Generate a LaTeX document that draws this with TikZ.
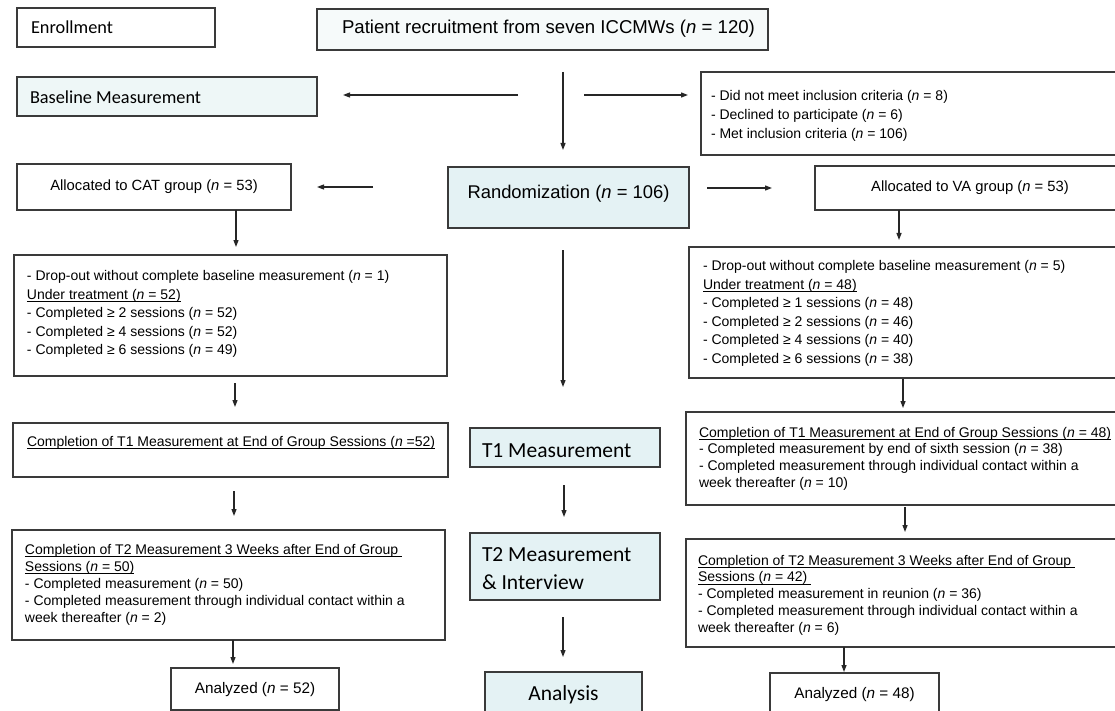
\documentclass[tikz,border=0pt]{standalone}
\usepackage{fontspec}
\setmainfont{Liberation Sans}
\newfontfamily\calib{Carlito}
\usetikzlibrary{arrows.meta}
\definecolor{bordc}{HTML}{3A3A3A}
\definecolor{bluef}{HTML}{E4F2F4}
\definecolor{basef}{HTML}{EEF7F7}
\definecolor{patf}{HTML}{F6FAFA}
\newsavebox\ulbox
\newcommand\ulx[1]{\sbox\ulbox{#1}\rlap{\rule[-2.4pt]{\wd\ulbox}{0.7pt}}\usebox\ulbox}
\newcommand\myln[1]{\mbox{\rule{0pt}{0.75em}#1}\par}
\newcommand\tbl[5]{\parbox[c][#2pt][t]{#1pt}{\leftskip=#4pt\relax\vspace*{#3pt}#5}}
\newcommand\tbc[4]{\parbox[c][#2pt][t]{#1pt}{\centering\vspace*{#3pt}#4}}
\newcommand\nn{\textit{n}}
\tikzset{
  box/.style={draw=bordc, line width=1.1pt, inner sep=0pt, outer sep=0pt, anchor=north west},
  arr/.style={-{Triangle[length=7pt,width=5pt]}, line width=1.2pt, draw=black!85},
}
\begin{document}
\begin{tikzpicture}[x=1pt,y=-1pt]
\useasboundingbox (0,0) rectangle (1115,711);
\clip (0,0) rectangle (1115,711);
\fill[white] (0,0) rectangle (1115,711);

% left column labels
\node[box] (enroll) at (17,8) {\calib\fontsize{18.3}{22}\selectfont\tbl{198}{39}{12.2}{14}{\myln{Enrollment}}};
\node[box, fill=basef] (baseline) at (17,77) {\calib\fontsize{18.3}{22}\selectfont\tbl{300}{39}{12.3}{13}{\myln{Baseline Measurement}}};

% top
\node[box, fill=patf] (patient) at (317,9) {\fontsize{18.6}{22}\selectfont\tbl{451}{41}{10.5}{25}{\myln{Patient recruitment from seven ICCMWs (\nn{} = 120)}}};
\node[box] (excl) at (701,72) {\fontsize{14}{19}\selectfont\tbl{424}{83}{18.5}{10}{%
  \myln{- Did not meet inclusion criteria (\nn{} = 8)}%
  \myln{- Declined to participate (\nn{} = 6)}%
  \myln{- Met inclusion criteria (\nn{} = 106)}}};

% allocation
\node[box] (cat) at (17,164) {\fontsize{14.8}{18}\selectfont\tbc{274}{46}{15.2}{\myln{Allocated to CAT group (\nn{} = 53)}}};
\node[box, fill=bluef] (rand) at (448,167) {\fontsize{18.4}{22}\selectfont\tbc{241}{61}{17.5}{\myln{Randomization (\nn{} = 106)}}};
\node[box] (va) at (815,166) {\fontsize{14.8}{18}\selectfont\tbc{310}{44}{14.2}{\myln{Allocated to VA group (\nn{} = 53)}}};

% treatment
\node[box] (catd) at (14,255) {\fontsize{14}{18.5}\selectfont\tbl{433}{121}{15}{13}{%
  \myln{- Drop-out without complete baseline measurement (\nn{} = 1)}%
  \myln{\ulx{Under treatment (\nn{} = 52)}}%
  \myln{- Completed ≥ 2 sessions (\nn{} = 52)}%
  \myln{- Completed ≥ 4 sessions (\nn{} = 52)}%
  \myln{- Completed ≥ 6 sessions (\nn{} = 49)}}};
\node[box] (vad) at (689,247) {\fontsize{14}{18.6}\selectfont\tbl{436}{131}{13}{14}{%
  \myln{- Drop-out without complete baseline measurement (\nn{} = 5)}%
  \myln{\ulx{Under treatment (\nn{} = 48)}}%
  \myln{- Completed ≥ 1 sessions (\nn{} = 48)}%
  \myln{- Completed ≥ 2 sessions (\nn{} = 46)}%
  \myln{- Completed ≥ 4 sessions (\nn{} = 40)}%
  \myln{- Completed ≥ 6 sessions (\nn{} = 38)}}};

% T1
\node[box] (catt1) at (13,423) {\fontsize{14}{17}\selectfont\tbl{435}{54}{12.5}{14}{%
  \myln{\ulx{Completion of T1 Measurement at End of Group Sessions (\nn{} =52)}}}};
\node[box, fill=bluef] (t1m) at (470,428) {\calib\fontsize{21.5}{28}\selectfont\tbl{190}{39}{12.9}{12}{\myln{T1 Measurement}}};
\node[box] (vat1) at (686,412) {\fontsize{14}{16.8}\selectfont\tbl{439}{93}{14.5}{13}{%
  \myln{\ulx{Completion of T1 Measurement at End of Group Sessions (\nn{} = 48)}}%
  \myln{- Completed measurement by end of sixth session (\nn{} = 38)}%
  \myln{- Completed measurement through individual contact within a}%
  \myln{week thereafter (\nn{} = 10)}}};

% T2
\node[box] (catt2) at (12,530) {\fontsize{14}{17}\selectfont\tbl{433}{110}{13.5}{13}{%
  \myln{\ulx{Completion of T2 Measurement 3 Weeks after End of Group\ }}%
  \myln{\ulx{Sessions (\nn{} = 50)}}%
  \myln{- Completed measurement (\nn{} = 50)}%
  \myln{- Completed measurement through individual contact within a}%
  \myln{week thereafter (\nn{} = 2)}}};
\node[box, fill=bluef] (t2m) at (470,533) {\calib\fontsize{21.5}{28}\selectfont\tbl{190}{67}{11.9}{12}{%
  \myln{T2 Measurement}\myln{\& Interview}}};
\node[box] (vat2) at (686,539) {\fontsize{14}{16.8}\selectfont\tbl{439}{108}{15.5}{12}{%
  \myln{\ulx{Completion of T2 Measurement 3 Weeks after End of Group\ }}%
  \myln{\ulx{Sessions (\nn{} = 42)\ }}%
  \myln{- Completed measurement in reunion (\nn{} = 36)}%
  \myln{- Completed measurement through individual contact within a}%
  \myln{week thereafter (\nn{} = 6)}}};

% analysis
\node[box] (catan) at (171,668) {\fontsize{15.3}{18}\selectfont\tbc{168}{42}{14.5}{\myln{Analyzed (\nn{} = 52)}}};
\node[box, fill=bluef] (analysis) at (485,672) {\calib\fontsize{21.5}{28}\selectfont\tbc{157}{40}{11.9}{\myln{Analysis}}};
\node[box] (vaan) at (770,673) {\fontsize{15.3}{18}\selectfont\tbc{169}{40}{14.5}{\myln{Analyzed (\nn{} = 48)}}};

% connectors
\coordinate (bsrc) at (518,95);
\coordinate (esrc) at (584,95);
\draw[arr, shorten <=22pt, shorten >=17pt] ([xshift=20.5]patient.south) -- ([xshift=-5.5]rand.north);
\draw[arr, shorten >=26pt] (bsrc) -- (bsrc -| baseline.east);
\draw[arr, shorten >=13pt] (esrc) -- (esrc -| excl.west);
\draw[arr, shorten <=75pt, shorten >=26pt] (rand.west |- cat.east) -- (cat.east);
\draw[arr, shorten <=18pt, shorten >=43pt] (rand.east |- va.west) -- (va.west);
\draw[arr, shorten >=8pt] ([xshift=82]cat.south) -- ([xshift=5.5]catd.north);
\draw[arr, shorten >=7pt] ([xshift=-71]va.south) -- ([xshift=-8]vad.north);
\draw[arr, shorten <=22pt, shorten >=41pt] ([xshift=-5.5]rand.south) -- ([xshift=-2]t1m.north);
\draw[arr, shorten <=7pt, shorten >=16pt] ([xshift=4.5]catd.south) -- ([xshift=4.5]catt1.north);
\draw[arr, shorten <=1pt, shorten >=4pt] ([xshift=-4]vad.south) -- ([xshift=-2.5]vat1.north);
\draw[arr, shorten <=14pt, shorten >=14pt] ([xshift=3.5]catt1.south) -- ([xshift=5.5]catt2.north);
\draw[arr, shorten <=2pt, shorten >=7pt] ([xshift=-0.5]vat1.south) -- ([xshift=-0.5]vat2.north);
\draw[arr, shorten >=4pt] ([xshift=4.5]catt2.south) -- ([xshift=-22]catan.north);
\draw[arr, shorten >=1pt] ([xshift=-61.5]vat2.south) -- ([xshift=-10.5]vaan.north);
\draw[arr, shorten <=18pt, shorten >=16pt] ([xshift=-1]t1m.south) -- ([xshift=-1]t2m.north);
\draw[arr, shorten <=17pt, shorten >=15pt] ([xshift=-2]t2m.south) -- ([xshift=-0.5]analysis.north);
\end{tikzpicture}
\end{document}
